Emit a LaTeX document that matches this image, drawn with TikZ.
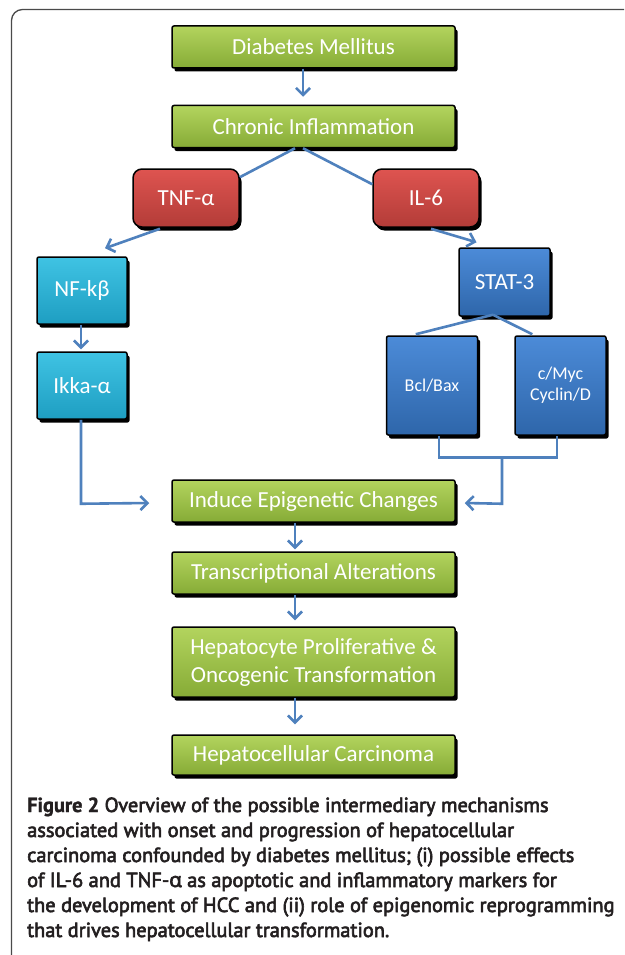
\documentclass[tikz,border=0pt]{standalone}
\usepackage{fontspec}
\setmainfont{Carlito}
\newfontfamily\capfont[FakeBold=3]{PT Sans}
\newfontfamily\capbf[FakeBold=1.5]{PT Sans}
\newfontfamily\capgreek[FakeBold=3]{Open Sans}
\usetikzlibrary{arrows.meta,shadows,calc}
\definecolor{gtop}{HTML}{B3D45E}
\definecolor{gbot}{HTML}{86AB36}
\definecolor{rtop}{HTML}{DE5450}
\definecolor{rbot}{HTML}{B33C38}
\definecolor{ctop}{HTML}{3FC3E3}
\definecolor{cbot}{HTML}{1E9EC2}
\definecolor{btop}{HTML}{4C8BD8}
\definecolor{bbot}{HTML}{2E66AA}
\definecolor{arrblue}{HTML}{4F81BD}
\definecolor{framegray}{HTML}{4A4A4A}
\definecolor{captext}{HTML}{231F20}
\tikzset{
  basebox/.style={draw=black, line width=1.5pt, text=white, inner sep=0pt, align=center,
    drop shadow={shadow xshift=2.5pt, shadow yshift=-3.5pt, fill=black, opacity=1}},
  greenbox/.style={basebox, top color=gtop, bottom color=gbot, minimum width=283pt,
    minimum height=42pt, rounded corners=2pt, font=\fontsize{23}{28}\selectfont},
  redbox/.style={basebox, top color=rtop, bottom color=rbot, minimum width=106pt,
    minimum height=58pt, rounded corners=9pt, font=\fontsize{23}{28}\selectfont},
  cyanbox/.style={basebox, top color=ctop, bottom color=cbot, minimum width=90pt,
    minimum height=67pt, rounded corners=2pt, font=\fontsize{23}{28}\selectfont},
  bluebox/.style={basebox, top color=btop, bottom color=bbot, minimum width=91pt,
    minimum height=68pt, rounded corners=2pt, font=\fontsize{23}{28}\selectfont},
  smallblue/.style={bluebox, minimum width=91pt, minimum height=99pt,
    font=\fontsize{18}{21}\selectfont},
  conn/.style={draw=arrblue, line width=2.6pt},
  arr/.style={conn, -{Straight Barb[length=7pt,width=14pt,line width=2.6pt]}},
  capline/.style={anchor=base west, inner sep=0pt, text=captext,
    font=\capfont\fontsize{20.4}{25}\selectfont}
}
\begin{document}
\begin{tikzpicture}[x=1pt,y=-1pt]
\useasboundingbox (0,0) rectangle (624,955);
\fill[white] (0,0) rectangle (624,955);
\begin{scope}
\clip (0,0) rectangle (624,955);
\draw[framegray, line width=1.3pt, rounded corners=11pt] (11.5,975) -- (11.5,9.5) -- (650,9.5);
\end{scope}

% nodes
\node[greenbox] (dm) at (313.5,47) {Diabetes Mellitus};
\node[greenbox] (ci) at (313.5,126.5) {Chronic Inflammation};
\node[redbox] (tnf) at (186,198) {TNF-α};
\node[redbox] (il6) at (426,198) {IL-6};
\node[cyanbox] (nf) at (82,290.5) {NF-kβ};
\node[cyanbox] (ikka) at (82,385.5) {Ikka-α};
\node[bluebox] (stat) at (504.5,282) {STAT-3};
\node[smallblue] (bcl) at (432,385.5) {Bcl/Bax};
\node[smallblue] (myc) at (560.5,385.5) {c/Myc\\Cyclin/D};
\node[greenbox] (iec) at (313.5,501) {Induce Epigenetic Changes};
\node[greenbox] (ta) at (313.5,573) {Transcriptional Alterations};
\node[greenbox, minimum height=70pt] (hp) at (313.5,662) {Hepatocyte Proliferative \&\\Oncogenic Transformation};
\node[greenbox, minimum height=40pt] (hcc) at (313.5,755) {Hepatocellular Carcinoma};

% connectors
\draw[arr] ([xshift=-10.5pt]dm.south) -- ([xshift=-10.5pt,yshift=8pt]ci.north);
\draw[conn] ([xshift=-18.5pt]ci.south) -- ([yshift=-9pt]tnf.north east);
\draw[conn] ([xshift=-10.5pt]ci.south) -- ([yshift=-16pt]il6.north west);
\draw[arr] ([xshift=-26pt,yshift=-1pt]tnf.south) -- ([xshift=23pt,yshift=8pt]nf.north);
\draw[arr] ([xshift=5pt,yshift=-1pt]il6.south) -- ([xshift=-28pt,yshift=5pt]stat.north);
\draw[arr] ([xshift=-1pt]nf.south) -- ([xshift=-1pt,yshift=2pt]ikka.north);
\coordinate (ikbend) at ($(ikka.south)+(-1,84)$);
\draw[arr] ([xshift=-1pt]ikka.south) -- (ikbend) -- ($(iec.west)+(-22,2)$);
\coordinate (stfork) at ($(stat.south)+(-11.5,-2)$);
\draw[conn] (stfork) -- ([xshift=30pt,yshift=1pt]bcl.north west);
\draw[conn] (stfork) -- ([xshift=18pt,yshift=1pt]myc.north west);
\coordinate (bjoin) at ($(bcl.south)+(7,22)$);
\coordinate (mjoin) at ($(myc.south)+(-3.5,22)$);
\coordinate (mid) at ($(bcl.south)+(70,22)$);
\draw[conn] ([xshift=7pt]bcl.south) -- (bjoin) -- (mjoin) -- ([xshift=-3.5pt]myc.south);
\draw[arr] (mid) -- ($(mid)+(0,46)$) -- ($(iec.east)+(9,2)$);
\draw[arr] ([xshift=-18.5pt]iec.south) -- ([xshift=-18.5pt,yshift=2pt]ta.north);
\draw[arr] ([xshift=-18.5pt]ta.south) -- ([xshift=-18.5pt,yshift=6pt]hp.north);
\draw[arr] ([xshift=-18.5pt]hp.south) -- ([xshift=-18.5pt,yshift=10pt]hcc.north);

% caption
\node[capline] (c1) at (27,812) {{\capbf\bfseries Figure 2} Overview of the possible intermediary mechanisms};
\node[capline] (c2) at (27,837) {associated with onset and progression of hepatocellular};
\node[capline] (c3) at (27,862) {carcinoma confounded by diabetes mellitus; (i) possible effects};
\node[capline] (c4) at (27,887) {of IL-6 and TNF-{\capgreek α} as apoptotic and inflammatory markers for};
\node[capline] (c5) at (27,912) {the development of HCC and (ii) role of epigenomic reprogramming};
\node[capline] (c6) at (27,937) {that drives hepatocellular transformation.};
\end{tikzpicture}
\end{document}
